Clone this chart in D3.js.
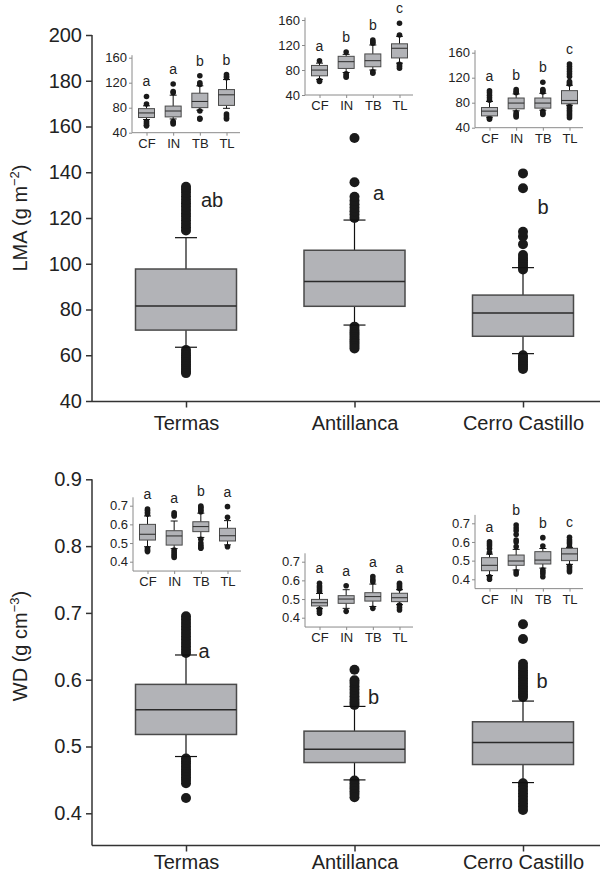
<!DOCTYPE html>
<html>
<head>
<meta charset="utf-8">
<script src="https://cdn.jsdelivr.net/npm/d3@7"></script>
<style>
  body { margin: 0; background: #fff; }
  svg { display: block; font-family: "Liberation Sans", Arial, sans-serif; }
</style>
</head>
<body>
<svg id="chart" width="605" height="874"></svg>
<script>
// ---- data ----
const sites = ["Termas", "Antillanca", "Cerro Castillo"];
const groups = ["CF", "IN", "TB", "TL"];

// LMA, main boxes (one per site)
const lmaLow    = [63.5, 73.2, 60.7];
const lmaQ1     = [71.0, 81.4, 68.3];
const lmaMedian = [81.5, 92.2, 78.5];
const lmaQ3     = [97.7, 105.9, 86.3];
const lmaHigh   = [111.4, 119.1, 98.3];
const lmaOutliers = [
  [114.5, 116, 117.5, 119, 120.5, 122, 123.5, 125, 126.5, 128, 129.5, 131, 132.5, 133.7,
   62.3, 61, 60, 59, 58, 57, 56, 55, 54, 53, 52.2],
  [120, 121.5, 123, 124.5, 126, 127.5, 129.3, 135.6, 155,
   72.5, 71, 70, 69, 68, 67, 66, 65, 64, 63],
  [97.5, 98.5, 99.5, 100.5, 101.5, 102.5, 103.8, 108.5, 111.9, 114, 133, 139.5,
   60, 59, 58, 57, 56, 55, 54]
];
const lmaLetters = ["ab", "a", "b"];
const lmaTicks = [40, 60, 80, 100, 120, 140, 160, 180, 200];

// WD, main boxes
const wdLow    = [0.485, 0.450, 0.446];
const wdQ1     = [0.518, 0.476, 0.473];
const wdMedian = [0.555, 0.496, 0.506];
const wdQ3     = [0.593, 0.523, 0.537];
const wdHigh   = [0.637, 0.560, 0.568];
const wdOutliers = [
  [0.640, 0.645, 0.650, 0.655, 0.660, 0.665, 0.670, 0.675, 0.680, 0.685, 0.690, 0.695,
   0.482, 0.478, 0.474, 0.470, 0.466, 0.462, 0.458, 0.454, 0.450, 0.445, 0.423],
  [0.562, 0.566, 0.570, 0.575, 0.580, 0.585, 0.590, 0.595, 0.599, 0.615,
   0.449, 0.445, 0.441, 0.437, 0.433, 0.429, 0.424],
  [0.574, 0.578, 0.582, 0.586, 0.590, 0.594, 0.598, 0.602, 0.606, 0.610, 0.614, 0.619, 0.624, 0.661, 0.683,
   0.445, 0.440, 0.435, 0.430, 0.425, 0.420, 0.415, 0.410, 0.405]
];
const wdLetters = ["a", "b", "b"];
const wdTicks = [0.4, 0.5, 0.6, 0.7, 0.8, 0.9];

// LMA insets: [site][group]
const lmaInLow    = [[61, 62, 76, 79], [65, 76, 80, 91], [56.8, 67, 68, 76]];
const lmaInQ1     = [[64.3, 65.3, 80.1, 83.7], [70.7, 82.5, 85.2, 99.3], [58.9, 70.2, 71.3, 78.3]];
const lmaInMedian = [[71.6, 74.7, 90, 100.6], [79.9, 93.3, 94.9, 114.8], [66.5, 79.4, 79.4, 83.6]];
const lmaInQ3     = [[78.5, 82.6, 103.2, 109], [87.3, 101.9, 105.7, 121.9], [72.3, 87.5, 87.5, 99.3]];
const lmaInHigh   = [[83, 100, 115, 125], [91, 105, 120, 134], [82, 94, 95, 108]];
const lmaInOutliers = [
  [[86, 98, 58, 55, 52, 51], [104, 106, 118, 58, 56, 54], [117, 120, 131, 74.7, 63, 61.7], [128, 130, 133, 70, 67, 64, 62]],
  [[94.9, 63, 61.5], [108.9, 74, 71, 68.6], [123, 125, 128, 77, 75], [136, 154.7, 89, 86, 83]],
  [[84, 88, 92, 96, 99, 55, 53.6], [96, 98, 101, 64, 61, 59, 57], [97, 99, 101, 112.7, 66, 63, 61],
   [110, 112, 114, 122, 126, 130, 134, 138, 142, 74, 71, 68, 65, 62, 59, 56]]
];
const lmaInLetters = [["a", "a", "b", "b"], ["a", "b", "b", "c"], ["a", "b", "b", "c"]];
const lmaInTicks = [40, 80, 120, 160];

// WD insets
const wdInLow    = [[0.48, 0.47, 0.53, 0.49], [0.45, 0.45, 0.46, 0.47], [0.42, 0.45, 0.46, 0.48]];
const wdInQ1     = [[0.516, 0.489, 0.561, 0.511], [0.463, 0.477, 0.489, 0.486], [0.446, 0.475, 0.482, 0.500]];
const wdInMedian = [[0.547, 0.538, 0.588, 0.539], [0.480, 0.500, 0.513, 0.507], [0.475, 0.498, 0.503, 0.536]];
const wdInQ3     = [[0.600, 0.566, 0.614, 0.579], [0.498, 0.518, 0.534, 0.531], [0.516, 0.530, 0.548, 0.566]];
const wdInHigh   = [[0.645, 0.618, 0.660, 0.620], [0.530, 0.550, 0.580, 0.550], [0.535, 0.560, 0.565, 0.570]];
const wdInOutliers = [
  [[0.655, 0.665, 0.675, 0.682, 0.470, 0.462, 0.454], [0.645, 0.652, 0.662, 0.462, 0.450, 0.440, 0.430, 0.423],
   [0.668, 0.676, 0.684, 0.692, 0.698, 0.520, 0.500, 0.488, 0.478, 0.472], [0.638, 0.695, 0.480]],
  [[0.540, 0.550, 0.560, 0.570, 0.584, 0.445, 0.435, 0.424], [0.571, 0.434],
   [0.593, 0.605, 0.620, 0.450], [0.557, 0.567, 0.576, 0.584, 0.468, 0.455, 0.441]],
  [[0.545, 0.565, 0.580, 0.590, 0.601, 0.414, 0.400], [0.575, 0.600, 0.610, 0.640, 0.660, 0.675, 0.691, 0.440, 0.428],
   [0.578, 0.623, 0.450, 0.440, 0.430, 0.414], [0.575, 0.590, 0.600, 0.610, 0.625, 0.470, 0.460, 0.450, 0.441]]
];
const wdInLetters = [["a", "a", "b", "a"], ["a", "a", "a", "a"], ["a", "b", "b", "c"]];
const wdInTicks = [0.4, 0.5, 0.6, 0.7];

// ---- layout ----
const svg = d3.select("#chart");
const boxFill = "#b2b3b7";
const axisX0 = 92, axisX1 = 600;

const xMain = d3.scalePoint().domain(sites).range([186, 523]);

function boxOf(low, q1, med, q3, high, out, i) {
  return {low: low[i], q1: q1[i], med: med[i], q3: q3[i], high: high[i], out: out[i]};
}

function drawBox(g, cx, y, s, boxW, capW, r, thin) {
  const sw = thin ? 1 : 1.2;
  g.append("line").attr("x1", cx).attr("x2", cx).attr("y1", y(s.low)).attr("y2", y(s.q1))
    .attr("stroke", "#111").attr("stroke-width", sw);
  g.append("line").attr("x1", cx).attr("x2", cx).attr("y1", y(s.q3)).attr("y2", y(s.high))
    .attr("stroke", "#111").attr("stroke-width", sw);
  g.selectAll(null).data(s.out).join("circle")
    .attr("cx", cx).attr("cy", d => y(d)).attr("r", r).attr("fill", "#1a1a1a");
  [s.low, s.high].forEach(v => {
    g.append("line").attr("x1", cx - capW / 2).attr("x2", cx + capW / 2)
      .attr("y1", y(v)).attr("y2", y(v)).attr("stroke", "#111").attr("stroke-width", sw);
  });
  g.append("rect").attr("x", cx - boxW / 2).attr("width", boxW)
    .attr("y", y(s.q3)).attr("height", y(s.q1) - y(s.q3))
    .attr("fill", boxFill).attr("stroke", "#4a4a4a").attr("stroke-width", thin ? 1 : 1.5);
  g.append("line").attr("x1", cx - boxW / 2).attr("x2", cx + boxW / 2)
    .attr("y1", y(s.med)).attr("y2", y(s.med)).attr("stroke", "#2a2a2a").attr("stroke-width", thin ? 1 : 1.5);
}

function mainPanel(cfg) {
  const g = svg.append("g");
  const y = d3.scaleLinear().domain(cfg.domain).range(cfg.range);
  const yAxis = d3.axisLeft(y).tickValues(cfg.ticks).tickSize(6).tickPadding(4)
    .tickFormat(cfg.fmt);
  const ga = g.append("g").attr("transform", `translate(${axisX0},0)`).call(yAxis);
  ga.select(".domain").attr("d", `M0,${y(cfg.ticks[cfg.ticks.length - 1])}V${cfg.base}`);
  ga.selectAll("path,line").attr("stroke", "#333").attr("stroke-width", 1.5);
  ga.selectAll("text").attr("font-size", 20).attr("fill", "#222")
    .attr("font-family", "Liberation Sans, Arial, sans-serif");

  const gx = g.append("g").attr("transform", `translate(0,${cfg.base})`)
    .call(d3.axisBottom(xMain).tickSize(6).tickPadding(cfg.xPad));
  gx.select(".domain").attr("d", `M${axisX0},0H${axisX1}`);
  gx.selectAll("path,line").attr("stroke", "#333").attr("stroke-width", 1.5);
  gx.selectAll("text").attr("font-size", 20).attr("fill", "#222")
    .attr("font-family", "Liberation Sans, Arial, sans-serif");

  const t = g.append("text")
    .attr("transform", `translate(27,${cfg.titleY}) rotate(-90)`)
    .attr("text-anchor", "middle").attr("font-size", 20).attr("fill", "#222");
  t.append("tspan").text(cfg.title);
  t.append("tspan").attr("font-size", 13).attr("dy", -8).text(cfg.sup);
  t.append("tspan").attr("dy", 8).text(")");

  sites.forEach((site, i) => {
    drawBox(g, xMain(site), y, cfg.stats(i), 101, 22, 5, false);
    g.append("text").attr("x", xMain(site) + cfg.letterDx[i]).attr("y", y(cfg.letterAt[i]) + 7)
      .attr("text-anchor", "middle").attr("font-size", 20).attr("fill", "#222").text(cfg.letters[i]);
  });
}

function inset(cfg) {
  const g = svg.append("g");
  const y = d3.scaleLinear().domain(cfg.domain).range([cfg.y0, cfg.y0 - cfg.h]);
  const x = d3.scalePoint().domain(groups).range([cfg.x0 + 14.5, cfg.x0 + 94.5]);
  const lo = cfg.axisLo, hi = cfg.axisHi;
  const ya = g.append("g").attr("transform", `translate(${cfg.x0},0)`)
    .call(d3.axisLeft(y).tickValues(cfg.ticks).tickSize(3).tickPadding(2).tickFormat(cfg.fmt));
  ya.select(".domain").attr("d", `M0,${y(hi)}V${y(lo)}`);
  ya.selectAll("path,line").attr("stroke", "#8a8a8a").attr("stroke-width", 1);
  ya.selectAll("text").attr("font-size", 13).attr("fill", "#222")
    .attr("font-family", "Liberation Sans, Arial, sans-serif");
  const xa = g.append("g").attr("transform", `translate(0,${y(lo)})`)
    .call(d3.axisBottom(x).tickSize(3).tickPadding(3));
  xa.select(".domain").attr("d", `M${cfg.x0},0H${cfg.x0 + 108}`);
  xa.selectAll("path,line").attr("stroke", "#8a8a8a").attr("stroke-width", 1);
  xa.selectAll("text").attr("font-size", 13).attr("fill", "#222")
    .attr("font-family", "Liberation Sans, Arial, sans-serif");
  groups.forEach((grp, j) => {
    const s = cfg.stats(j);
    drawBox(g, x(grp), y, s, 16, 7, 2.8, true);
    const top = d3.max([s.high, ...s.out]);
    g.append("text").attr("x", x(grp)).attr("y", y(top) - 10)
      .attr("text-anchor", "middle").attr("font-size", 14).attr("fill", "#222").text(cfg.letters[j]);
  });
}

// top panel: LMA
mainPanel({
  domain: [40, 200], range: [401, 35], base: 401.5, xPad: 8, ticks: lmaTicks, fmt: d3.format("d"),
  title: "LMA (g m", sup: "\u22122", titleY: 218,
  letters: lmaLetters, letterAt: [128, 131, 125], letterDx: [26, 24, 20],
  stats: i => boxOf(lmaLow, lmaQ1, lmaMedian, lmaQ3, lmaHigh, lmaOutliers, i)
});

// bottom panel: WD
mainPanel({
  domain: [0.4, 0.9], range: [813.3, 479.3], base: 845.5, xPad: 3, ticks: wdTicks, fmt: d3.format(".1f"),
  title: "WD (g cm", sup: "\u22123", titleY: 646,
  letters: wdLetters, letterAt: [0.643, 0.574, 0.598], letterDx: [18, 19, 19],
  stats: i => boxOf(wdLow, wdQ1, wdMedian, wdQ3, wdHigh, wdOutliers, i)
});

// insets
const lmaInsetPos = [{x0: 132, y0: 132.7}, {x0: 305, y0: 95}, {x0: 475, y0: 127.7}];
const wdInsetPos = [{x0: 133, y0: 561.7}, {x0: 305, y0: 617.7}, {x0: 475, y0: 579.3}];

sites.forEach((site, i) => {
  inset({
    x0: lmaInsetPos[i].x0, y0: lmaInsetPos[i].y0, h: 75, domain: [40, 160],
    axisLo: 40, axisHi: 164, ticks: lmaInTicks, fmt: d3.format("d"),
    letters: lmaInLetters[i],
    stats: j => boxOf(lmaInLow[i], lmaInQ1[i], lmaInMedian[i], lmaInQ3[i], lmaInHigh[i], lmaInOutliers[i], j)
  });
  inset({
    x0: wdInsetPos[i].x0, y0: wdInsetPos[i].y0, h: 56, domain: [0.4, 0.7],
    axisLo: 0.35, axisHi: 0.745, ticks: wdInTicks, fmt: d3.format(".1f"),
    letters: wdInLetters[i],
    stats: j => boxOf(wdInLow[i], wdInQ1[i], wdInMedian[i], wdInQ3[i], wdInHigh[i], wdInOutliers[i], j)
  });
});
</script>
</body>
</html>
